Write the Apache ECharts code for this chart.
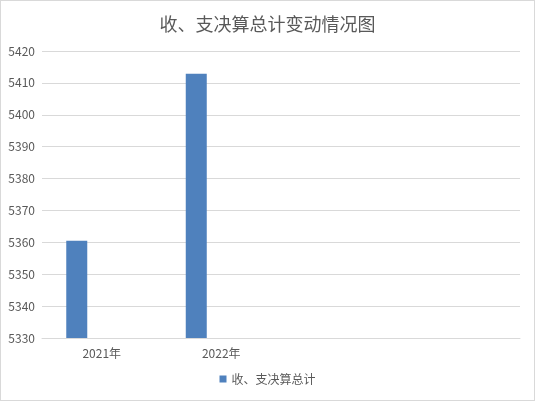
<!DOCTYPE html>
<html>
<head>
<meta charset="utf-8">
<script src="https://cdn.jsdelivr.net/npm/echarts@6/dist/echarts.min.js"></script>
<style>
html,body{margin:0;padding:0;background:#fff;}
#c{width:533px;height:399px;border:1px solid #d9d9d9;}
</style>
</head>
<body>
<div id="c"></div>
<script>
var categories = ['2021年', '2022年', '', ''];
var totals = [5360.5, 5412.9, null, null];
var seriesName = '收、支决算总计';
var yMin = 5330, yMax = 5420, yStep = 10;

var chart = echarts.init(document.getElementById('c'));
var font = '"Noto Sans CJK SC", "Microsoft YaHei", sans-serif';
chart.setOption({
  animation: false,
  textStyle: {fontFamily: font},
  title: {
    text: '收、支决算总计变动情况图',
    left: 'center',
    top: 9,
    textStyle: {fontSize: 18, fontWeight: 'normal', color: '#595959', fontFamily: font}
  },
  legend: {
    data: [seriesName],
    bottom: 10,
    left: 'center',
    icon: 'rect',
    itemWidth: 7,
    itemHeight: 7,
    itemGap: 4,
    textStyle: {fontSize: 12, color: '#595959', fontFamily: font}
  },
  grid: {left: 41, right: 14, top: 50, bottom: 62},
  xAxis: {
    type: 'category',
    data: categories,
    axisLine: {lineStyle: {color: '#d9d9d9'}},
    axisTick: {show: false},
    axisLabel: {color: '#595959', fontSize: 12, margin: 9, fontFamily: font}
  },
  yAxis: {
    type: 'value',
    min: yMin,
    max: yMax,
    interval: yStep,
    axisLine: {show: false},
    axisTick: {show: false},
    splitLine: {lineStyle: {color: '#d9d9d9'}},
    axisLabel: {color: '#595959', fontSize: 12, margin: 7, fontFamily: font,
      formatter: function (v) { return String(v); }}
  },
  series: [
    {name: seriesName, type: 'bar', data: totals, barWidth: 21, barGap: '19%', itemStyle: {color: '#4f81bd'}},
    {name: 'b', type: 'bar', data: [null, null, null, null], barWidth: 21, barGap: '19%'},
    {name: 'c', type: 'bar', data: [null, null, null, null], barWidth: 21, barGap: '19%'}
  ]
});
</script>
</body>
</html>
